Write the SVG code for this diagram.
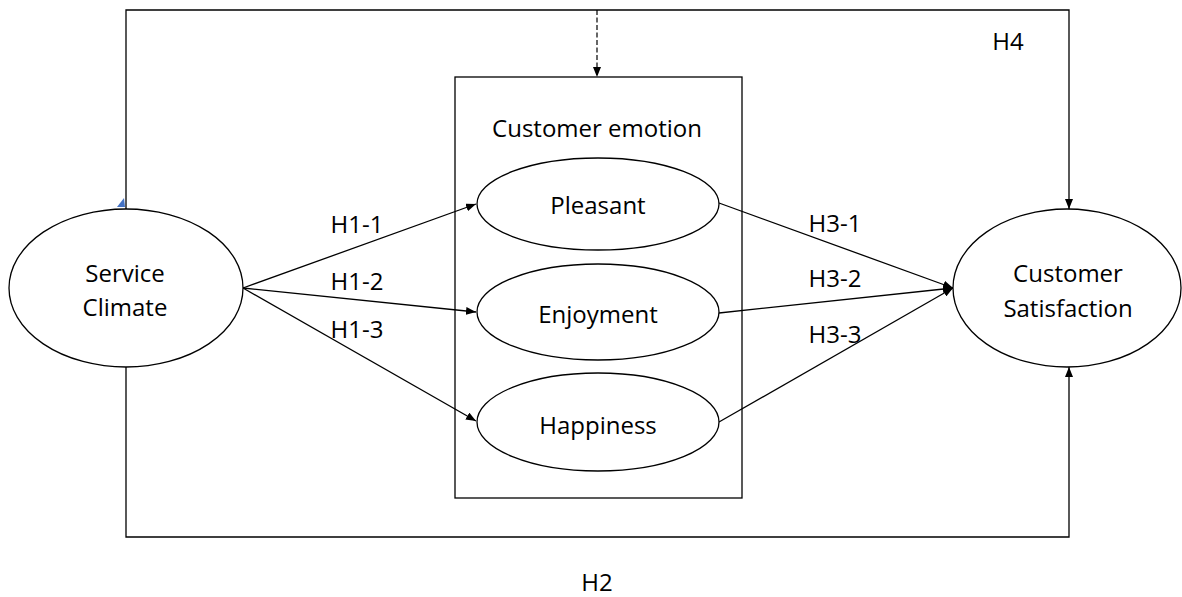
<svg xmlns="http://www.w3.org/2000/svg" width="1182" height="597" viewBox="0 0 1182 597">
<defs>
<marker id="arr" viewBox="0 0 10 8" refX="10" refY="4" markerWidth="10" markerHeight="8" markerUnits="userSpaceOnUse" orient="auto">
<path d="M0,0 L10,4 L0,8 z" fill="#000"/>
</marker>
</defs>
<style>
.node{fill:#fff;stroke:#000;stroke-width:1.3}
.box{fill:none;stroke:#000;stroke-width:1.3}
.t{font-family:"Open Sans","Noto Sans","DejaVu Sans",sans-serif;font-size:24px;fill:#000;text-anchor:middle}
.c{fill:none;stroke:#000;stroke-width:1.3}
.d{fill:none;stroke:#000;stroke-width:1.2;stroke-dasharray:5 2.5}
</style>
<rect width="1182" height="597" fill="#fff"/>
<g id="emotion-box">
<rect class="box" x="455" y="77" width="287" height="421"/>
<text class="t" x="597" y="137">Customer emotion</text>
</g>
<g id="connectors">
<polyline class="c" points="126,209 126,10 1069,10 1069,209" marker-end="url(#arr)"/>
<line class="d" x1="597" y1="10" x2="597" y2="77" marker-end="url(#arr)"/>
<polyline class="c" points="126,367 126,537 1069,537 1069,367" marker-end="url(#arr)"/>
<line class="c" x1="243" y1="288" x2="476" y2="204" marker-end="url(#arr)"/>
<line class="c" x1="243" y1="288" x2="476" y2="312" marker-end="url(#arr)"/>
<line class="c" x1="243" y1="288" x2="476" y2="421" marker-end="url(#arr)"/>
<line class="c" x1="719" y1="203" x2="953" y2="288" marker-end="url(#arr)"/>
<line class="c" x1="719" y1="313" x2="953" y2="288" marker-end="url(#arr)"/>
<line class="c" x1="719" y1="422" x2="953" y2="288" marker-end="url(#arr)"/>
<path d="M117,207 L125,207 L124,198 z" fill="#4472C4"/>
<text class="t" x="357" y="233">H1-1</text>
<text class="t" x="357" y="290">H1-2</text>
<text class="t" x="357" y="338">H1-3</text>
<text class="t" x="835" y="232">H3-1</text>
<text class="t" x="835" y="287">H3-2</text>
<text class="t" x="835" y="343">H3-3</text>
<text class="t" x="1008" y="50">H4</text>
<text class="t" x="597" y="591">H2</text>
</g>
<g id="service-climate">
<ellipse class="node" cx="126" cy="288" rx="117" ry="79"/>
<text class="t" x="125" y="282">Service</text>
<text class="t" x="125" y="316">Climate</text>
</g>
<g id="pleasant">
<ellipse class="node" cx="598" cy="204" rx="121" ry="46"/>
<text class="t" x="598" y="214">Pleasant</text>
</g>
<g id="enjoyment">
<ellipse class="node" cx="598" cy="312" rx="121" ry="48"/>
<text class="t" x="598" y="323">Enjoyment</text>
</g>
<g id="happiness">
<ellipse class="node" cx="598" cy="422" rx="121" ry="49"/>
<text class="t" x="598" y="434">Happiness</text>
</g>
<g id="customer-satisfaction">
<ellipse class="node" cx="1067" cy="288" rx="114" ry="79"/>
<text class="t" x="1068" y="282">Customer</text>
<text class="t" x="1068" y="317">Satisfaction</text>
</g>
</svg>
